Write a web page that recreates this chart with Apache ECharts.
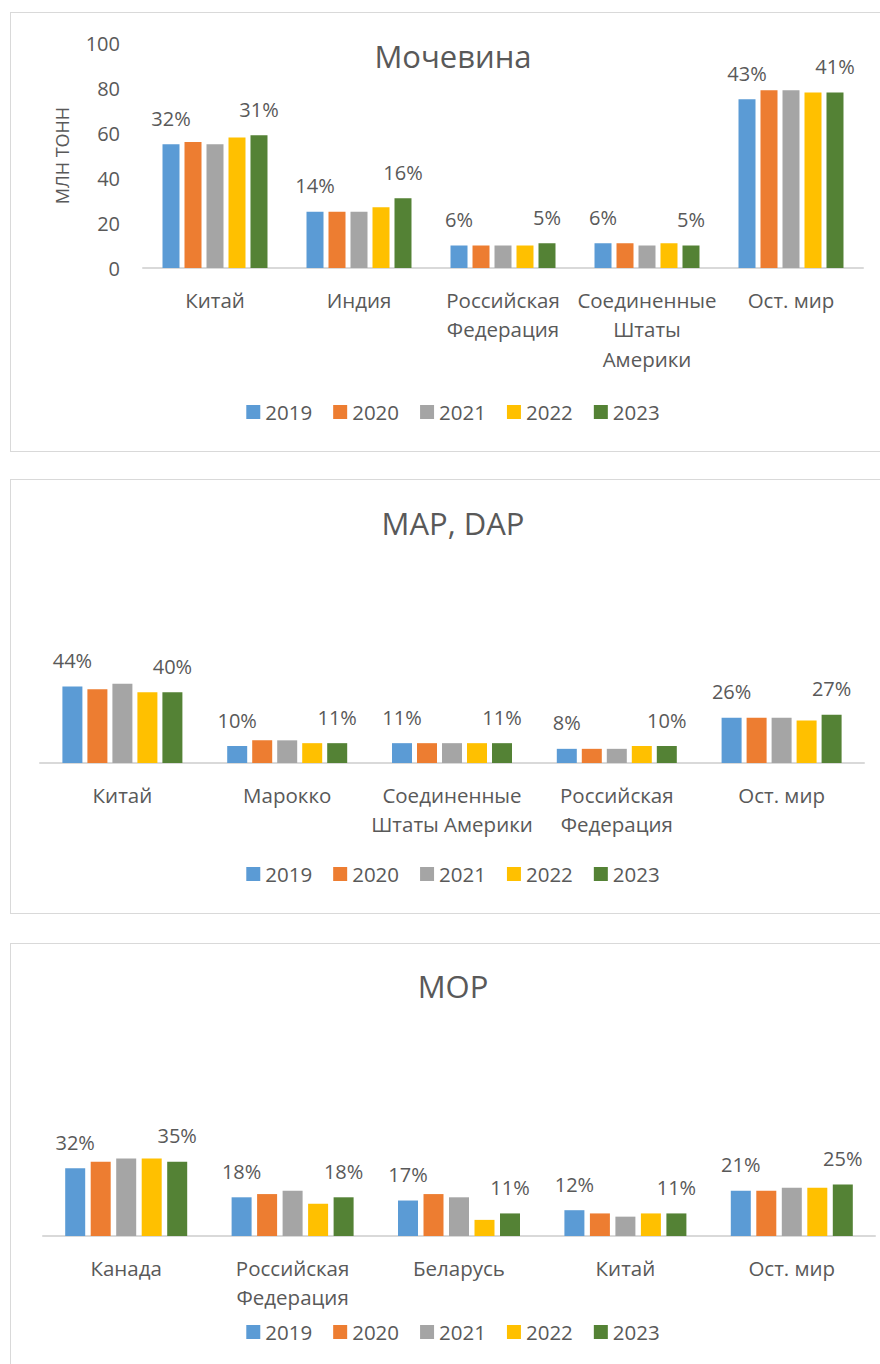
<!DOCTYPE html>
<html>
<head>
<meta charset="utf-8">
<script src="https://cdn.jsdelivr.net/npm/echarts@6/dist/echarts.min.js"></script>
<style>
  html, body { margin: 0; padding: 0; background: #fff; overflow: hidden; width: 880px; height: 1364px; }
  .panel { position: absolute; left: 10px; width: 884px; border: 1px solid #d9d9d9; background: #fff; }
</style>
</head>
<body>
<div id="p1" class="panel" style="top:12px;height:438px;"></div>
<div id="p2" class="panel" style="top:479px;height:433px;"></div>
<div id="p3" class="panel" style="top:943px;height:440px;"></div>
<script>
// ---- shared ----
const years = ['2019', '2020', '2021', '2022', '2023'];
const colors = ['#5B9BD5', '#ED7D31', '#A5A5A5', '#FFC000', '#548235'];

// ---- Мочевина (млн тонн) ----
const ureaTitle = 'Мочевина';
const ureaCategories = ['Китай', 'Индия', 'Российская\nФедерация', 'Соединенные\nШтаты\nАмерики', 'Ост. мир'];
const urea2019 = [55, 25, 10, 11, 75];
const urea2020 = [56, 25, 10, 11, 79];
const urea2021 = [55, 25, 10, 10, 79];
const urea2022 = [58, 27, 10, 11, 78];
const urea2023 = [59, 31, 11, 10, 78];
const ureaShare2019 = ['32%', '14%', '6%', '6%', '43%'];
const ureaShare2023 = ['31%', '16%', '5%', '5%', '41%'];
const ureaTicks = [0, 20, 40, 60, 80, 100];
const ureaAxisName = 'МЛН ТОНН';

// ---- MAP, DAP ----
const mapTitle = 'MAP, DAP';
const mapCategories = ['Китай', 'Марокко', 'Соединенные\nШтаты Америки', 'Российская\nФедерация', 'Ост. мир'];
const map2019 = [27, 6, 7, 5, 16];
const map2020 = [26, 8, 7, 5, 16];
const map2021 = [28, 8, 7, 5, 16];
const map2022 = [25, 7, 7, 6, 15];
const map2023 = [25, 7, 7, 6, 17];
const mapShare2019 = ['44%', '10%', '11%', '8%', '26%'];
const mapShare2023 = ['40%', '11%', '11%', '10%', '27%'];

// ---- MOP ----
const mopTitle = 'MOP';
const mopCategories = ['Канада', 'Российская\nФедерация', 'Беларусь', 'Китай', 'Ост. мир'];
const mop2019 = [21, 12, 11, 8, 14];
const mop2020 = [23, 13, 13, 7, 14];
const mop2021 = [24, 14, 12, 6, 15];
const mop2022 = [24, 10, 5, 7, 15];
const mop2023 = [23, 12, 7, 7, 16];
const mopShare2019 = ['32%', '18%', '17%', '12%', '21%'];
const mopShare2023 = ['35%', '18%', '11%', '11%', '25%'];

const FONT = '"Open Sans", "Noto Sans", sans-serif';
const TXT = '#595959';

function build(el, c) {
  const chart = echarts.init(document.getElementById(el), null, { renderer: 'svg' });
  const seriesData = c.values;
  const series = years.map((y, i) => {
    const s = {
      name: y,
      type: 'bar',
      data: seriesData[i],
      barWidth: c.barWidth,
      barGap: c.barGap,
      itemStyle: { color: colors[i] },
      emphasis: { disabled: true },
      animation: false
    };
    if (i === 0 || i === years.length - 1) {
      const shares = i === 0 ? c.shareFirst : c.shareLast;
      s.label = {
        show: true,
        position: 'top',
        distance: 16,
        color: TXT,
        fontFamily: FONT,
        fontSize: 20,
        lineHeight: 20,
        formatter: p => shares[p.dataIndex]
      };
    }
    return s;
  });
  const yAxis = {
    type: 'value',
    min: 0,
    max: c.max,
    interval: c.interval,
    show: c.showY,
    axisLine: { show: false },
    axisTick: { show: false },
    splitLine: { show: false },
    axisLabel: { show: c.showY, color: TXT, fontFamily: FONT, fontSize: 20, margin: 23 }
  };
  if (c.axisName) {
    Object.assign(yAxis, {
      name: c.axisName,
      nameLocation: 'middle',
      nameGap: 72,
      nameRotate: 90,
      nameTextStyle: { color: TXT, fontFamily: FONT, fontSize: 18 }
    });
  }
  chart.setOption({
    animation: false,
    textStyle: { fontFamily: FONT },
    title: {
      text: c.title,
      left: 'center',
      top: c.titleTop,
      textStyle: { color: TXT, fontFamily: FONT, fontSize: 31, fontWeight: 'normal' }
    },
    legend: {
      data: years,
      left: 'center',
      top: c.legendTop,
      icon: 'rect',
      itemWidth: 14,
      itemHeight: 14,
      itemGap: 21,
      padding: 0,
      selectedMode: false,
      textStyle: { color: TXT, fontFamily: FONT, fontSize: 20.5, lineHeight: 24 }
    },
    grid: { left: c.grid[0], top: c.grid[1], width: c.grid[2], height: c.grid[3] },
    xAxis: {
      type: 'category',
      data: c.categories,
      axisLine: { lineStyle: { color: '#D9D9D9', width: 2 } },
      axisTick: { show: false },
      axisLabel: { color: TXT, fontFamily: FONT, fontSize: 20.5, lineHeight: 29.5, margin: 17, interval: 0 }
    },
    yAxis: yAxis,
    series: series
  });
}

build('p1', {
  title: ureaTitle, titleTop: 22,
  categories: ureaCategories,
  values: [urea2019, urea2020, urea2021, urea2022, urea2023],
  shareFirst: ureaShare2019, shareLast: ureaShare2023,
  max: ureaTicks[ureaTicks.length - 1], interval: ureaTicks[1] - ureaTicks[0], showY: true, axisName: ureaAxisName,
  grid: [132, 30, 720, 225], barWidth: 17, barGap: '29.4%', legendTop: 387
});
build('p2', {
  title: mapTitle, titleTop: 22,
  categories: mapCategories,
  values: [map2019, map2020, map2021, map2022, map2023],
  shareFirst: mapShare2019, shareLast: mapShare2023,
  max: 90, interval: 10, showY: false,
  grid: [29, 28, 824, 255], barWidth: 20, barGap: '25%', legendTop: 382
});
build('p3', {
  title: mopTitle, titleTop: 21,
  categories: mopCategories,
  values: [mop2019, mop2020, mop2021, mop2022, mop2023],
  shareFirst: mopShare2019, shareLast: mopShare2023,
  max: 80, interval: 10, showY: false,
  grid: [32, 34, 832, 258], barWidth: 20, barGap: '27.5%', legendTop: 376
});
</script>
</body>
</html>
